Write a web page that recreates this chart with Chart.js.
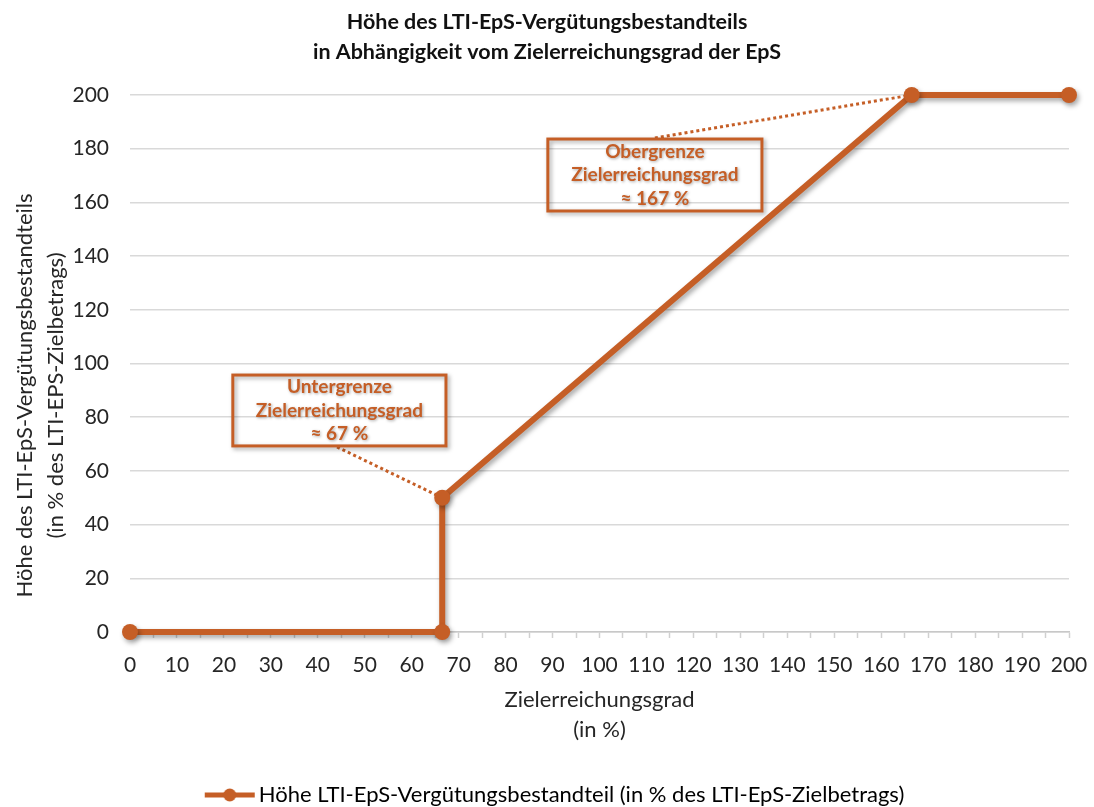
<!DOCTYPE html>
<html>
<head>
<meta charset="utf-8">
<script src="https://cdn.jsdelivr.net/npm/chart.js@4/dist/chart.umd.min.js"></script>
<style>
  html, body { margin: 0; padding: 0; background: #ffffff; }
  #wrap { width: 1094px; height: 807px; position: relative; }
</style>
</head>
<body>
<div id="wrap"><canvas id="c" width="1094" height="807"></canvas></div>
<script>
// ---- data ----
const xValues = [0, 66.5, 66.5, 166.5, 200];
const yValues = [0, 0, 50, 200, 200];
const seriesLabel = 'Höhe LTI-EpS-Vergütungsbestandteil (in % des LTI-EpS-Zielbetrags)';
const chartTitle = ['Höhe des LTI-EpS-Vergütungsbestandteils', 'in Abhängigkeit vom Zielerreichungsgrad der EpS'];
const xTitle = ['Zielerreichungsgrad', '(in %)'];
const yTitle = ['Höhe des LTI-EpS-Vergütungsbestandteils', '(in % des LTI-EPS-Zielbetrags)'];
const noteLower = ['Untergrenze', 'Zielerreichungsgrad', '≈ 67 %'];
const noteUpper = ['Obergrenze', 'Zielerreichungsgrad', '≈ 167 %'];

const ORANGE = '#C55E26';
const TEXT = '#262626';
const FONT = 'Lato, "Open Sans", sans-serif';

// annotation boxes in data coordinates
const notes = [
  { lines: noteLower, x0: 21.9, x1: 67.3, y0: 95.7, y1: 69.3, from: [44.1, 68.9], to: [xValues[2], yValues[2]] },
  { lines: noteUpper, x0: 89.0, x1: 134.6, y0: 183.6, y1: 156.8, from: [111.8, 184.0], to: [xValues[3], yValues[3]] }
];

const notePlugin = {
  id: 'notes',
  beforeDatasetsDraw(chart) {
    const ctx = chart.ctx;
    const xs = chart.scales.x, ys = chart.scales.y;
    notes.forEach(n => {
      const l = xs.getPixelForValue(n.x0), r = xs.getPixelForValue(n.x1);
      const t = ys.getPixelForValue(n.y0), b = ys.getPixelForValue(n.y1);
      // dotted connector
      ctx.save();
      ctx.strokeStyle = ORANGE;
      ctx.lineWidth = 3;
      ctx.setLineDash([3, 3]);
      ctx.beginPath();
      ctx.moveTo(xs.getPixelForValue(n.from[0]), ys.getPixelForValue(n.from[1]));
      ctx.lineTo(xs.getPixelForValue(n.to[0]), ys.getPixelForValue(n.to[1]));
      ctx.stroke();
      ctx.restore();
      // box
      ctx.save();
      ctx.shadowColor = 'rgba(0,0,0,0.35)';
      ctx.shadowBlur = 4;
      ctx.shadowOffsetX = 2;
      ctx.shadowOffsetY = 2;
      ctx.strokeStyle = ORANGE;
      ctx.lineWidth = 3;
      ctx.strokeRect(l, t, r - l, b - t);
      ctx.restore();
      // text
      ctx.save();
      ctx.shadowColor = 'rgba(0,0,0,0.35)';
      ctx.shadowBlur = 3;
      ctx.shadowOffsetX = 1;
      ctx.shadowOffsetY = 1;
      ctx.fillStyle = ORANGE;
      ctx.font = 'bold 19px ' + FONT;
      ctx.textAlign = 'center';
      ctx.textBaseline = 'middle';
      const cx = (l + r) / 2, cy = (t + b) / 2;
      const lh = 23.5;
      n.lines.forEach((s, i) => {
        ctx.fillText(s, cx, cy + (i - (n.lines.length - 1) / 2) * lh);
      });
      ctx.restore();
    });
  },
  beforeDatasetDraw(chart) {
    const ctx = chart.ctx;
    ctx.save();
    ctx.shadowColor = 'rgba(0,0,0,0.35)';
    ctx.shadowBlur = 5;
    ctx.shadowOffsetX = 2;
    ctx.shadowOffsetY = 3;
  },
  afterDatasetDraw(chart) {
    chart.ctx.restore();
  },
  afterDraw(chart) {
    // y-axis title (two rotated lines, sitting a little below the plot centre as in the original)
    const ctx = chart.ctx;
    const ca = chart.chartArea;
    const cy = (ca.top + ca.bottom) / 2 + 32;
    ctx.save();
    ctx.fillStyle = TEXT;
    ctx.font = '22px ' + FONT;
    ctx.textAlign = 'center';
    ctx.textBaseline = 'middle';
    yTitle.forEach((s, i) => {
      ctx.save();
      ctx.translate(25 + i * 31, cy);
      ctx.rotate(-Math.PI / 2);
      ctx.fillText(s, 0, 0);
      ctx.restore();
    });
    ctx.restore();
  }
};

function legendMarker() {
  const c = document.createElement('canvas');
  c.width = 76; c.height = 16;
  const g = c.getContext('2d');
  g.strokeStyle = ORANGE;
  g.lineWidth = 5;
  g.beginPath(); g.moveTo(24, 8); g.lineTo(74, 8); g.stroke();
  g.fillStyle = ORANGE;
  g.beginPath(); g.arc(49, 8, 6.5, 0, Math.PI * 2); g.fill();
  return c;
}
const marker = legendMarker();

const ctx = document.getElementById('c').getContext('2d');
new Chart(ctx, {
  type: 'line',
  data: {
    datasets: [{
      label: seriesLabel,
      data: xValues.map((x, i) => ({ x: x, y: yValues[i] })),
      borderColor: ORANGE,
      backgroundColor: ORANGE,
      borderWidth: 6,
      pointRadius: 8,
      pointHoverRadius: 8,
      pointBackgroundColor: ORANGE,
      pointBorderWidth: 0,
      tension: 0,
      clip: false
    }]
  },
  options: {
    responsive: false,
    animation: false,
    events: [],
    layout: { padding: { left: 25, right: 25, top: 0, bottom: -9 } },
    plugins: {
      title: {
        display: true,
        text: chartTitle,
        color: '#111111',
        font: { family: FONT, size: 21.5, weight: 'bold', lineHeight: '30px' },
        padding: { top: 7, bottom: 28 }
      },
      legend: {
        position: 'bottom',
        labels: {
          color: TEXT,
          font: { family: FONT, size: 22 },
          usePointStyle: true,
          pointStyleWidth: 58,
          padding: 10,
          generateLabels: (chart) => [{
            text: seriesLabel,
            pointStyle: marker,
            fillStyle: ORANGE,
            strokeStyle: ORANGE,
            lineWidth: 0,
            datasetIndex: 0,
            hidden: false
          }]
        }
      },
      tooltip: { enabled: false }
    },
    scales: {
      x: {
        type: 'linear',
        min: 0,
        max: 200,
        afterFit: (s) => { s.height = 142; s.paddingRight = 0; s.paddingLeft = 0; },
        ticks: {
          stepSize: 5,
          autoSkip: false,
          maxRotation: 0,
          padding: 15,
          color: TEXT,
          font: { family: FONT, size: 21 },
          callback: (v) => (v % 10 === 0 ? String(v) : '')
        },
        grid: {
          drawOnChartArea: false,
          drawTicks: true,
          tickLength: 6,
          tickColor: '#d0d0d0',
          tickWidth: 1.5
        },
        border: { display: true, color: '#c8c8c8', width: 1.5 },
        title: {
          display: true,
          text: xTitle,
          color: TEXT,
          font: { family: FONT, size: 22, lineHeight: '30px' },
          padding: { top: 9, bottom: 29 }
        }
      },
      y: {
        min: 0,
        max: 200,
        afterFit: (s) => { s.width = 105; },
        ticks: {
          stepSize: 20,
          padding: 21,
          color: TEXT,
          font: { family: FONT, size: 21 }
        },
        grid: {
          color: '#d9d9d9',
          lineWidth: 1.5,
          drawTicks: false
        },
        border: { display: false },
        title: { display: false }
      }
    }
  },
  plugins: [notePlugin]
});
</script>
</body>
</html>
